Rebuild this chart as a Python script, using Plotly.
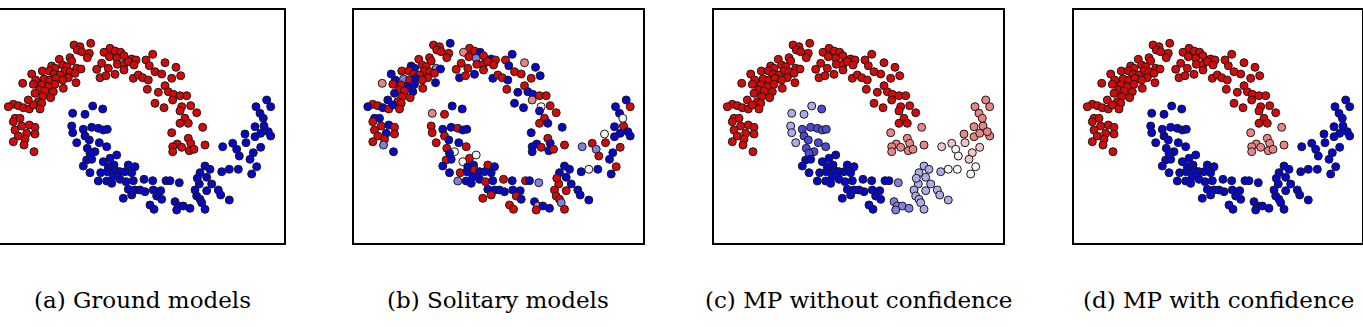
import plotly.graph_objects as go

# ---------------- data (point positions, shared by all four panels) ----------------
upper_left_xy = [
    (90.7, 43.3), (74, 45), (80, 46.7), (77.3, 50), (81.7, 51.7),
    (89.3, 53.3), (70, 57.7), (87.3, 57.7), (59.3, 59.3), (71.7, 61),
    (51.7, 66), (62.7, 65), (66.7, 66.7), (55, 68.3), (76.7, 68.3),
    (81, 69), (42.3, 71), (49.3, 71), (65, 71), (70, 71.7),
    (75, 73.3), (31.7, 74), (54, 74.3), (60, 75), (68.3, 77.7),
    (35.7, 80), (44, 79), (50, 80), (56, 78.3), (62.7, 80),
    (22.7, 83.3), (33.3, 84.3), (41.7, 85), (48.3, 86.7), (55, 84.3),
    (76, 82.7), (39.3, 90), (45, 91), (53.3, 91.7), (63.3, 88.3),
    (35, 93.3), (42.7, 96.7), (50.7, 97.7), (28.3, 100), (38.3, 101.7),
    (41.7, 103.3), (13.3, 104.3), (8.3, 106.7), (18.3, 105.7), (23.3, 107.7),
    (29.3, 109), (33.3, 105), (40, 109), (15, 118.3), (20, 118.3),
]
upper_left_codes = {
    "a": "RRRRR RRRRR RRRRR RRRRR RRRRR RRRRR RRRRR RRRRR RRRRR RRRRR RRRRR",
    "b": "BRRRR RRRRR BRRBb BRRRR RBRRR BbRBR rRRBB BRRBR BRRBR RRBRB RBRBB",
    "c": "RRRRR RRRRR RRRRR RRRRR RRRRR RRRRR RRRRR RRRRR RRRRR RRRRR RRRRR",
    "d": "RRRRR RRRRR RRRRR RRRRR RRRRR RRRRR RRRRR RRRRR RRRRR RRRRR RRRRR",
}

upper_mid_xy = [
    (110, 48.3), (104, 52.3), (115, 51), (120.7, 52.3), (109.3, 56.7),
    (116.7, 58.3), (124, 55.7), (131.7, 59), (136, 60), (96.7, 69.3),
    (101.7, 63.3), (108.3, 68.3), (117.3, 64.3), (124, 64.3), (128.3, 61.7),
    (134, 65), (100, 77.7), (106, 75.7), (115, 74.3), (124, 70),
    (133.3, 78.3), (138.3, 75), (142.7, 77.7),
]
upper_mid_codes = {
    "a": "RRRRR RRRRR RRRRR RRRRR RRR",
    "b": "RrRBR bRBRR RRRRR RBRBR BRR",
    "c": "RRRRR RRRRR RRRRR RRRRR RRR",
    "d": "RRRRR RRRRR RRRRR RRRRR RRR",
}

upper_right_xy = [
    (152.7, 54.3), (146, 60), (149.3, 65.7), (165, 62.7), (176, 67.3),
    (155, 71.7), (161.7, 74), (148.3, 80), (171.7, 78.3), (180.7, 75.7),
    (165, 85.7), (147.3, 89.3), (158.3, 92.3), (168.3, 91.7), (173.3, 94.3),
    (180, 95.7), (186.7, 95.7), (172.7, 100), (155, 103.3), (164, 107.7),
    (181.7, 106.7), (190.7, 105.7), (180, 111), (196.7, 112.7), (185, 118.3),
]
upper_right_codes = {
    "a": "RRRRR RRRRR RRRRR RRRRR RRRRR",
    "b": "BRBrB RRBRB RRBBB RRrBB wRBRR",
    "c": "RRRRR RRRRR RRRRR RRRRR RRRRR",
    "d": "RRRRR RRRRR RRRRR RRRRR RRRRR",
}

upper_tip_xy = [
    (180, 123.3), (188.3, 123.3), (202.7, 127.3), (171.7, 132.7), (188.3, 138.3),
    (190.7, 143.3), (177.3, 144), (172.7, 146.7), (181.7, 147.3), (205, 145),
    (172.7, 151.7), (189.3, 150.7), (194, 149.3),
]
upper_tip_codes = {
    "a": "RRRRR RRRRR RRR",
    "b": "RBBBR BBBRR BBR",
    "c": "RRrrr rrrrr rrr",
    "d": "RRrrr rrrrr rrr",
}

left_tail_xy = [
    (13.3, 121.7), (21.7, 126), (29.3, 125), (35, 127.3), (15, 130),
    (26.7, 133.3), (35, 134), (18.3, 136), (13.3, 141.7), (25, 139.3),
    (24, 145), (34, 151.7),
]
left_tail_codes = {
    "a": "RRRRR RRRRR RR",
    "b": "RRBRR BRRRR bB",
    "c": "RRRRR RRRRR RR",
    "d": "RRRRR RRRRR RR",
}

lower_xy = [
    (72.7, 113.3), (85, 114.3), (92.7, 106), (102.7, 109), (71.7, 126),
    (72.7, 132.7), (83.3, 129.3), (91.7, 127.3), (98.3, 128.3), (103.3, 130),
    (107.3, 129.3), (85, 136), (76.7, 142.7), (89.3, 140), (99.3, 142.7),
    (106.7, 146.7), (87.3, 148.3), (95, 151.7), (90, 153.3), (86.7, 160),
    (91.7, 159.3), (83.3, 166), (90, 172.7), (103.3, 161.7), (110, 158.3),
    (116.7, 155), (108.3, 166.7), (114, 165), (100.7, 172.7), (107.3, 171.7),
    (115, 170), (120, 171.7), (128.3, 165), (135, 166.7), (125, 171.7),
    (131.7, 172.7), (113.3, 176.7), (120, 179.3), (98.3, 181), (106.7, 181),
    (111.7, 183.3), (126, 181.7), (133.3, 180.7), (128.3, 189.3), (135, 190),
    (123.3, 198.3), (131.7, 195), (144, 179.3), (152.7, 180.7), (166, 180.7),
    (170, 180.7), (179.3, 182.7), (199.3, 184), (211.7, 184), (195, 190),
    (206.7, 190.7), (218.3, 190), (145, 191.7), (140, 190), (153.3, 190),
    (160.7, 190.7), (196.7, 196), (200, 199.3), (220.7, 195), (229.3, 200),
    (156.7, 196), (161.7, 199.3), (175, 201.7), (201.7, 202.7), (150, 205),
    (178.3, 206), (183.3, 206), (190, 208.3), (205, 209.3), (154, 209.3),
    (176.7, 210), (205, 166), (210, 169.3), (221.7, 171.7), (229.3, 169.3),
    (238.3, 169.3), (200, 172.7), (197.3, 178.3), (206.7, 177.3), (222.7, 146.7),
    (232.7, 143.3), (236.7, 149.3), (239.3, 156), (246, 142.7), (260.7, 147.3),
    (253.3, 152.7), (250, 159.3), (256.7, 166.7), (251.7, 174), (245, 134),
    (255, 136.7), (260.7, 133.3), (270.7, 136), (255, 126.7), (264, 126),
    (268.3, 131.7), (266.7, 100), (270.7, 106.7), (256, 106.7), (260, 113.3),
    (263.3, 118.3),
]
lower_codes = {
    "a": ("BBBBB BBBBB BBBBB BBBBB BBBBB BBBBB BBBBB BBBBB BBBBB BBBBB BBBBB "
          "BBBBB BBBBB BBBBB BBBBB BBBBB BBBBB BBBBB BBBBB BBBBB BBBBB B"),
    "b": ("rRBBR RBBRB BRRBB RRwBR BBBwR wBBRB RBRBB BBBbB BRBBB RRRBR BbRBR "
          "RBBBB BRRBB RBBbR rBBRR RBBBw BBRBb RbRRR BBRBw BBBBR BBRBB w"),
    "c": ("lllml lmmmm mmlmm mmmmB BBBBB BBBBB BBBBB BBBBB BBBBB BBBBB Bblll "
          "llBBB Bllll BBblB bbblB blllw wlllp pwwpp ppwwr rrrrr rrrrr r"),
    "d": ("BBBBB BBBBB BBBBB BBBBB BBBBB BBBBB BBBBB BBBBB BBBBB BBBBB BBBBB "
          "BBBBB BBBBB BBBBB BBBBB BBBBB BBBBB BBBBB BBBBB BBBBB BBBBB B"),
}

captions = ["(a) Ground models", "(b) Solitary models",
            "(c) MP without confidence", "(d) MP with confidence"]

# ---------------- styling ----------------
code_colors = {
    "R": "#d60808", "r": "#e98484", "p": "#f2c4c4", "w": "#f6f2f6",
    "l": "#acace8", "b": "#8080e2", "m": "#4a4ad6", "B": "#0606cc",
}

W, H = 1363, 327
panel_keys = ["a", "b", "c", "d"]
panel_left = [0, 354, 714, 1074]
panel_right = [284, 643, 1003, 1362]
panel_offset = [0, 359.5, 719, 1079]
frame_top, frame_bottom = 10, 243
caption_x = [142, 498, 858, 1218]
caption_y = 300

regions = [
    (upper_left_xy, upper_left_codes),
    (upper_mid_xy, upper_mid_codes),
    (upper_right_xy, upper_right_codes),
    (upper_tip_xy, upper_tip_codes),
    (left_tail_xy, left_tail_codes),
    (lower_xy, lower_codes),
]

fig = go.Figure()
for i, key in enumerate(panel_keys):
    xs, ys, cols = [], [], []
    for xy, codes in regions:
        c = codes[key].replace(" ", "")
        assert len(c) == len(xy), (key, len(c), len(xy))
        for (x, y), ch in zip(xy, c):
            xs.append(x)
            ys.append(y)
            cols.append(code_colors[ch])
    ax = "" if i == 0 else str(i + 1)
    fig.add_trace(go.Scatter(
        x=xs, y=ys, mode="markers", xaxis="x" + ax, yaxis="y" + ax,
        marker=dict(size=8, color=cols, line=dict(color="#1a1a1a", width=1)),
        showlegend=False, hoverinfo="skip",
    ))
    L, R, off = panel_left[i], panel_right[i], panel_offset[i]
    axis_common = dict(showgrid=False, zeroline=False, showticklabels=False,
                       ticks="", showline=True, mirror=True, linecolor="#000",
                       linewidth=2)
    fig.layout["xaxis" + ax] = dict(domain=[L / W, R / W], range=[L - off, R - off],
                                   anchor="y" + ax, **axis_common)
    fig.layout["yaxis" + ax] = dict(domain=[1 - frame_bottom / H, 1 - frame_top / H],
                                   range=[frame_bottom, frame_top],
                                   anchor="x" + ax, **axis_common)
    fig.add_annotation(text=captions[i], x=caption_x[i] / W, y=1 - caption_y / H,
                       xref="paper", yref="paper", showarrow=False,
                       xanchor="center", yanchor="middle",
                       font=dict(family="DejaVu Serif", size=23, color="#000"))

fig.update_layout(width=W, height=H, margin=dict(l=0, r=0, t=0, b=0),
                  paper_bgcolor="white", plot_bgcolor="white")
fig.write_html("out.html")
